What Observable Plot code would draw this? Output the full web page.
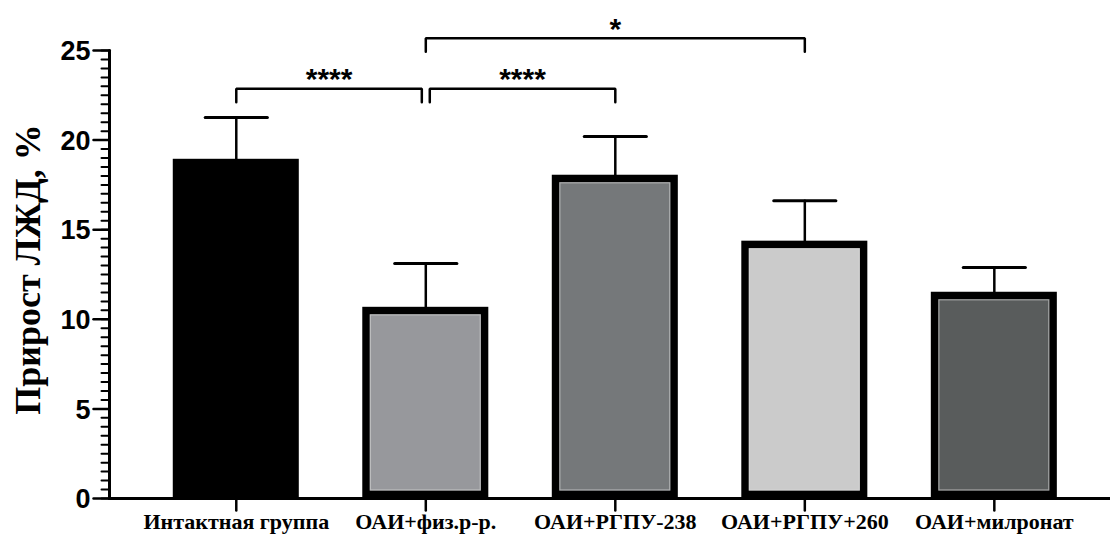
<!DOCTYPE html>
<html>
<head>
<meta charset="utf-8">
<script src="https://cdn.jsdelivr.net/npm/d3@7"></script>
<script src="https://cdn.jsdelivr.net/npm/@observablehq/plot@0.6"></script>
<style>
  html, body { margin: 0; padding: 0; background: #fff; }
  #chart svg { display: block; }
</style>
</head>
<body>
<div id="chart"></div>
<script>
// ---- data ----
const groups = ["Интактная группа", "ОАИ+физ.р-р.", "ОАИ+РГПУ-238", "ОАИ+РГПУ+260", "ОАИ+милронат"];
const means = [18.72, 10.46, 17.83, 14.15, 11.30];
const errTops = [21.26, 13.11, 20.20, 16.62, 12.89];
const yTicks = [0, 5, 10, 15, 20, 25];
const yTitle = "Прирост ЛЖД, %";
// significance comparisons (group indices), bracket level (y units), label
const cmpFrom = [0, 1, 1];
const cmpTo = [1, 2, 3];
const cmpLevel = [22.86, 22.86, 25.68];
const cmpLabel = ["****", "****", "*"];

// ---- style / layout ----
const W = 1110, H = 545;
const mL = 109, mR = 0, mT = 50, mB = 47;
const frameW = W - mL - mR, frameH = H - mT - mB;
const xDomain = [-0.669, 4.613];
const yDomain = [0, 25];
const pxX = frameW / (xDomain[1] - xDomain[0]);   // px per x unit
const pxY = frameH / (yDomain[1] - yDomain[0]);   // px per y unit
const barHalf = 0.3127, capHalf = 0.164, nudge = 0.021, drop = 0.75;
const barFill = ["#000000", "#97989c", "#75787a", "#cbcbcb", "#595c5c"];
const serif = "'Liberation Serif', 'Times New Roman', serif";
const sans = "'Liberation Sans', Arial, sans-serif";
const x0 = xDomain[0];

// tables built from the arrays
const bars = groups.map((g, i) => ({
  i, group: g, mean: means[i], err: errTops[i], fill: barFill[i],
  left: i - barHalf, right: i + barHalf, base: 0
}));
// tick polylines (one 2-point line per tick, keyed by k)
const seg = (k, xa, ya, xb, yb) => [{k, x: xa, y: ya}, {k, x: xb, y: yb}];
const minorPts = d3.range(0, 25.001, 0.5).flatMap((v, j) => seg("m" + j, x0 - 8 / pxX, v, x0, v));
const majorPts = yTicks.flatMap((v, j) => seg("M" + j, x0 - 16 / pxX, v, x0, v));
const xTickPts = bars.flatMap(d => seg("x" + d.i, d.i, 0, d.i, -12 / pxY));
const errPts = bars.flatMap(d => seg("e" + d.i, d.i, d.mean, d.i, d.err));
const capPts = bars.flatMap(d => seg("c" + d.i, d.i - capHalf, d.err, d.i + capHalf, d.err));
const axisPts = [...seg("ax", x0, 0, xDomain[1], 0), ...seg("ay", x0, 0, x0, 25)];

// brackets: nudge shared endpoints at the same level
const cmps = cmpFrom.map((a, k) => ({k, a, b: cmpTo[k], level: cmpLevel[k], label: cmpLabel[k]}));
cmps.forEach(c => {
  c.xa = c.a; c.xb = c.b;
  cmps.forEach(o => {
    if (o === c || o.level !== c.level) return;
    if (o.a === c.b || o.b === c.b) c.xb = c.b - nudge;
    if (o.a === c.a || o.b === c.a) c.xa = c.a + nudge;
  });
  c.mid = (c.xa + c.xb) / 2;
});
const bracketPts = cmps.flatMap(c => [
  {k: c.k, x: c.xa, y: c.level - drop},
  {k: c.k, x: c.xa, y: c.level},
  {k: c.k, x: c.xb, y: c.level},
  {k: c.k, x: c.xb, y: c.level - drop}
]);

const lineOpts = (w) => ({x: "x", y: "y", z: "k", stroke: "black", strokeWidth: w, strokeLinejoin: "miter"});

const chart = Plot.plot({
  width: W, height: H,
  marginLeft: mL, marginRight: mR, marginTop: mT, marginBottom: mB,
  x: {domain: xDomain, axis: null},
  y: {domain: yDomain, axis: null},
  color: {type: "identity"},
  style: {background: "white", overflow: "visible", fontFamily: sans},
  marks: [
    // error bars
    Plot.line(errPts, lineOpts(2.5)),
    Plot.line(capPts, lineOpts(3)),
    // bars
    Plot.rect(bars, {x1: "left", x2: "right", y1: "base", y2: "mean",
      fill: "fill", stroke: "black", strokeWidth: 7.5, insetBottom: 3.75}),
    // subtle inner highlight
    Plot.rect(bars.filter(d => d.i > 0), {x1: "left", x2: "right", y1: "base", y2: "mean",
      fill: "none", stroke: "#d8d8d8", strokeOpacity: 0.6, strokeWidth: 1.2,
      insetLeft: 4.3, insetRight: 4.3, insetTop: 4.3, insetBottom: 8}),
    // ticks
    Plot.line(minorPts, lineOpts(2)),
    Plot.line(majorPts, lineOpts(2.5)),
    Plot.line(xTickPts, lineOpts(2.5)),
    // axis lines
    Plot.line(axisPts, lineOpts(3)),
    // y tick labels
    Plot.text(yTicks, {y: d => d, text: d => String(d), frameAnchor: "left", textAnchor: "end", dx: -19, dy: 1,
      fontSize: 27, fontWeight: "bold", fontFamily: sans, fill: "black"}),
    // x labels
    Plot.text(bars, {x: "i", text: "group", frameAnchor: "bottom", dy: 30,
      fontSize: 22, fontWeight: "bold", fontFamily: serif, fill: "black"}),
    // y title
    Plot.text([yTitle], {text: d => d, frameAnchor: "left", textAnchor: "middle", rotate: -90, dx: -81, dy: -5,
      fontSize: 36, fontWeight: "bold", fontFamily: serif, fill: "black"}),
    // significance brackets
    Plot.line(bracketPts, lineOpts(2.5)),
    Plot.text(cmps, {x: "mid", y: "level", text: "label", dy: -9,
      fontSize: 30, fontWeight: "bold", fontFamily: sans, fill: "black"})
  ]
});
document.getElementById("chart").appendChild(chart);
</script>
</body>
</html>
